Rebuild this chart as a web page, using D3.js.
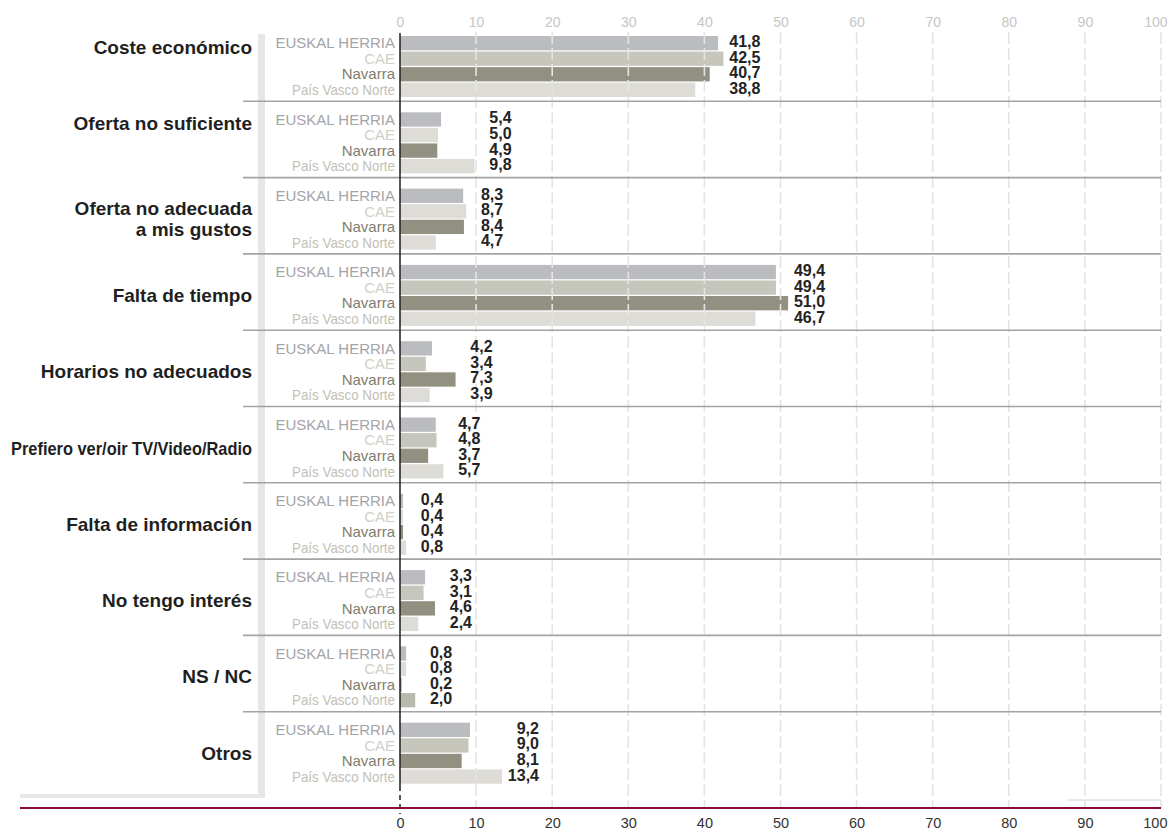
<!DOCTYPE html>
<html>
<head>
<meta charset="utf-8">
<script src="https://cdn.jsdelivr.net/npm/d3@7"></script>
<style>
  html, body { margin: 0; padding: 0; background: #fff; }
  svg { display: block; font-family: "Liberation Sans", Arial, sans-serif; }
</style>
</head>
<body>
<svg id="chart" width="1169" height="832"></svg>
<script>
// ---- data ----
const categories = [
  "Coste económico",
  "Oferta no suficiente",
  "Oferta no adecuada\na mis gustos",
  "Falta de tiempo",
  "Horarios no adecuados",
  "Prefiero ver/oir TV/Video/Radio",
  "Falta de información",
  "No tengo interés",
  "NS / NC",
  "Otros"
];
const series = ["EUSKAL HERRIA", "CAE", "Navarra", "País Vasco Norte"];
const euskalHerria   = [41.8, 5.4, 8.3, 49.4, 4.2, 4.7, 0.4, 3.3, 0.8, 9.2];
const cae            = [42.5, 5.0, 8.7, 49.4, 3.4, 4.8, 0.4, 3.1, 0.8, 9.0];
const navarra        = [40.7, 4.9, 8.4, 51.0, 7.3, 3.7, 0.4, 4.6, 0.2, 8.1];
const paisVascoNorte = [38.8, 9.8, 4.7, 46.7, 3.9, 5.7, 0.8, 2.4, 2.0, 13.4];
const tickValues = [0, 10, 20, 30, 40, 50, 60, 70, 80, 90, 100];

// ---- styles ----
const barColors = ["#bbbcbf", "#c6c6bc", "#929080", "#dddcd7"];
const labelColors = ["#a3a4a7", "#d0d0c9", "#7f7d6e", "#c2c0b6"];
const caeLight = "#dddcd7";
const pvnDark = "#b9b9ae";
const caeLightGroups = [1, 2, 6, 8];      // groups whose CAE bar is drawn light
const pvnDarkGroups = [8];                // groups whose PVN bar is drawn darker
const labelTopGroups = [0, 1];            // category labels aligned to first row

const values = [euskalHerria, cae, navarra, paisVascoNorte];
const rows = [];
categories.forEach((c, gi) => {
  series.forEach((s, si) => {
    rows.push({ cat: c, gi, s, si, v: values[si][gi] });
  });
});

const svg = d3.select("#chart");
const x = d3.scaleLinear().domain([0, 100]).range([400, 1161]);
const y = d3.scaleBand().domain(categories).range([25, 788]).paddingInner(0).paddingOuter(0);
const yIn = d3.scaleBand().domain(series).range([11, 72]).paddingInner(0.08).paddingOuter(0);

// left frame strip (L shape)
svg.append("rect").attr("x", 258).attr("y", 34).attr("width", 7).attr("height", 764).attr("fill", "#e6e7e9");
svg.append("rect").attr("x", 20).attr("y", 794).attr("width", 245).attr("height", 4).attr("fill", "#e6e7e9");
// bottom right faint line
svg.append("line").attr("x1", 1067).attr("x2", 1161).attr("y1", 800).attr("y2", 800)
  .attr("stroke", "#e2e2e2").attr("stroke-width", 1.5);

// bars
svg.append("g").selectAll("rect").data(rows).join("rect")
  .attr("x", x(0))
  .attr("y", d => y(d.cat) + yIn(d.s))
  .attr("width", d => x(d.v) - x(0))
  .attr("height", yIn.bandwidth())
  .attr("fill", d => {
    if (d.si === 1 && caeLightGroups.includes(d.gi)) return caeLight;
    if (d.si === 3 && pvnDarkGroups.includes(d.gi)) return pvnDark;
    return barColors[d.si];
  });

// grid lines (over bars)
const grid = svg.append("g");
tickValues.filter(t => t > 0).forEach(t => {
  grid.append("line").attr("x1", x(t)).attr("x2", x(t)).attr("y1", 32).attr("y2", 808)
    .attr("stroke", "#e4e4e4").attr("stroke-width", 1.6).attr("stroke-dasharray", "12,4");
});

// separators
svg.append("g").selectAll("line").data(categories.slice(1)).join("line")
  .attr("x1", 243).attr("x2", 1161)
  .attr("y1", d => y(d)).attr("y2", d => y(d))
  .attr("stroke", "#a3a3a3").attr("stroke-width", 1.6);

// zero line
svg.append("line").attr("x1", x(0)).attr("x2", x(0)).attr("y1", 33).attr("y2", 786)
  .attr("stroke", "#1e1e1e").attr("stroke-width", 1.5);
svg.append("line").attr("x1", x(0)).attr("x2", x(0)).attr("y1", 786).attr("y2", 814)
  .attr("stroke", "#1e1e1e").attr("stroke-width", 1.5).attr("stroke-dasharray", "5,4");

// red baseline
svg.append("line").attr("x1", 20).attr("x2", 1161).attr("y1", 808).attr("y2", 808)
  .attr("stroke", "#8c0a2c").attr("stroke-width", 2);

// series labels
svg.append("g").selectAll("text").data(rows).join("text")
  .attr("x", 395)
  .attr("y", d => y(d.cat) + yIn(d.s) + yIn.bandwidth() / 2 + 5.2)
  .attr("text-anchor", "end")
  .attr("font-size", 15)
  .attr("fill", d => labelColors[d.si])
  .attr("textLength", d => d.si === 3 ? 103 : null)
  .attr("lengthAdjust", "spacingAndGlyphs")
  .text(d => d.s);

// value labels (right-aligned next to the longest bar of each group)
const fmt = v => d3.format(".1f")(v).replace(".", ",");
svg.append("g").selectAll("text").data(rows).join("text")
  .attr("x", d => x(d3.max(values, arr => arr[d.gi])) + 37)
  .attr("y", d => y(d.cat) + yIn(d.s) + yIn.bandwidth() / 2 + 4)
  .attr("text-anchor", "end")
  .attr("font-size", 16)
  .attr("font-weight", "bold")
  .attr("fill", "#232323")
  .text(d => fmt(d.v));

// category labels
const catG = svg.append("g");
categories.forEach((c, gi) => {
  const lines = c.split("\n");
  const lh = 21;
  let base;
  if (labelTopGroups.includes(gi)) {
    base = y(c) + yIn(series[0]) + yIn.bandwidth() / 2 + 11;
  } else {
    const mid = y(c) + (yIn.range()[0] + yIn.range()[1]) / 2;
    base = mid + 6.5 - (lines.length - 1) * lh / 2;
  }
  const t = catG.append("text")
    .attr("x", 252).attr("y", base)
    .attr("text-anchor", "end")
    .attr("font-size", 19)
    .attr("font-weight", "bold")
    .attr("fill", "#1f1f1f");
  if (c.startsWith("Prefiero")) {
    t.attr("textLength", 241).attr("lengthAdjust", "spacingAndGlyphs");
  }
  lines.forEach((ln, i) => {
    t.append("tspan").attr("x", 252).attr("dy", i === 0 ? 0 : lh).text(ln);
  });
});

// top axis
const topAxis = d3.axisTop(x).tickValues(tickValues).tickSize(0).tickPadding(0).tickFormat(d3.format("d"));
const gTop = svg.append("g").attr("transform", "translate(0,27)").call(topAxis);
gTop.select(".domain").remove();
gTop.selectAll("text").attr("font-size", 14).attr("fill", "#c6c6c6")
  .attr("font-family", "'Liberation Sans', Arial, sans-serif").attr("dy", 0);
gTop.selectAll(".tick").filter(d => d === 100).select("text").attr("text-anchor", "end").attr("x", 6);

// bottom axis
const botAxis = d3.axisBottom(x).tickValues(tickValues).tickSize(0).tickPadding(0).tickFormat(d3.format("d"));
const gBot = svg.append("g").attr("transform", "translate(0,828)").call(botAxis);
gBot.select(".domain").remove();
gBot.selectAll("text").attr("font-size", 14.5).attr("fill", "#333")
  .attr("font-family", "'Liberation Sans', Arial, sans-serif").attr("dy", 0);
gBot.selectAll(".tick").filter(d => d === 100).select("text").attr("text-anchor", "end").attr("x", 6);
</script>
</body>
</html>
